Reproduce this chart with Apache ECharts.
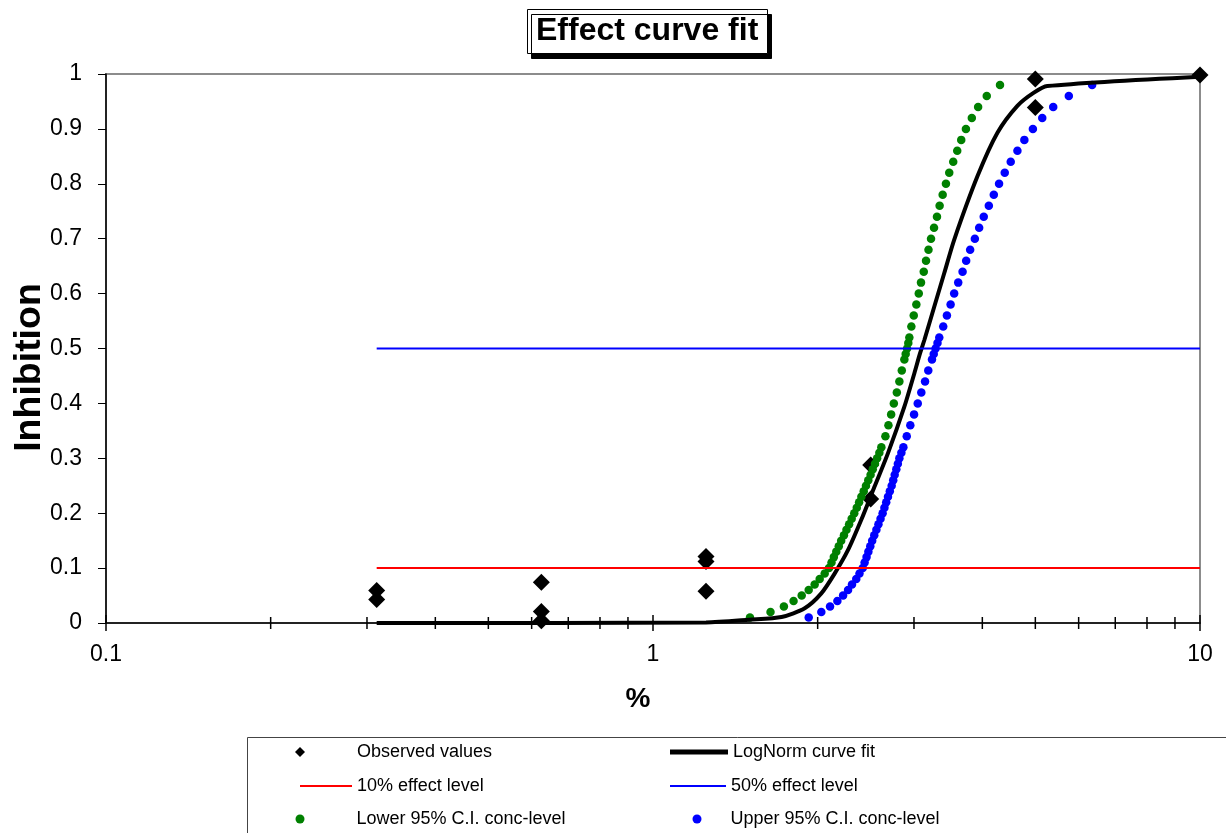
<!DOCTYPE html>
<html>
<head>
<meta charset="utf-8">
<title>Effect curve fit</title>
<script src="https://cdn.jsdelivr.net/npm/echarts@6/dist/echarts.min.js"></script>
<style>
  html, body { margin: 0; padding: 0; background: #fff; }
  #chart { width: 1226px; height: 833px; }
</style>
</head>
<body>
<div id="chart"></div>
<script>
// observed concentrations (%) and inhibition
const observedX = [0.3125, 0.3125, 0.625, 0.625, 0.625, 1.25, 1.25, 1.25, 2.5, 2.5, 5, 5, 10]
const observedY = [0.059, 0.043, 0.074, 0.021, 0.004, 0.121, 0.112, 0.058, 0.288, 0.226, 0.991, 0.939, 0.998]

// fitted log-normal curve
const fitX = [0.3125, 1.25, 1.5, 1.718, 1.894, 2.031, 2.148, 2.273, 2.403, 2.54, 2.688, 2.881,
  3.005, 3.077, 3.133, 3.267, 3.407, 3.553, 3.92, 4.263, 4.636, 4.97, 5.258, 10]
const fitY = [0, 0.001, 0.006, 0.011, 0.027, 0.054, 0.09, 0.133, 0.188, 0.248, 0.309, 0.394,
  0.455, 0.491, 0.515, 0.576, 0.637, 0.698, 0.814, 0.893, 0.942, 0.966, 0.978, 0.995]

// effect levels
const levelX = [0.3125, 10]
const level10 = 0.1
const level50 = 0.5

// confidence interval dots: effect level and lower / upper concentration
const ciLevels = [
  0.01, 0.02, 0.03, 0.04, 0.05, 0.06, 0.07, 0.08, 0.09, 0.10,
  0.11, 0.12, 0.13, 0.14, 0.15, 0.16, 0.17, 0.18, 0.19, 0.20,
  0.21, 0.22, 0.23, 0.24, 0.25, 0.26, 0.27, 0.28, 0.29, 0.30,
  0.31, 0.32, 0.34, 0.36, 0.38, 0.40, 0.42, 0.44, 0.46, 0.48,
  0.49, 0.50, 0.51, 0.52, 0.54, 0.56, 0.58, 0.60, 0.62, 0.64,
  0.66, 0.68, 0.70, 0.72, 0.74, 0.76, 0.78, 0.80, 0.82, 0.84,
  0.86, 0.88, 0.90, 0.92, 0.94, 0.96, 0.98
]
const lowerX = [
  1.504, 1.64, 1.735, 1.807, 1.87, 1.926, 1.975, 2.017, 2.06, 2.098,
  2.12, 2.141, 2.163, 2.186, 2.208, 2.234, 2.258, 2.283, 2.308, 2.333,
  2.358, 2.381, 2.404, 2.428, 2.451, 2.475, 2.499, 2.522, 2.546, 2.569,
  2.593, 2.615, 2.66, 2.694, 2.725, 2.756, 2.791, 2.821, 2.85, 2.881,
  2.897, 2.914, 2.929, 2.942, 2.967, 2.997, 3.03, 3.061, 3.09, 3.126,
  3.156, 3.189, 3.223, 3.264, 3.305, 3.342, 3.385, 3.432, 3.48, 3.539,
  3.599, 3.66, 3.733, 3.827, 3.93, 4.075, 4.309
]
const upperX = [
  1.926, 2.031, 2.107, 2.173, 2.226, 2.273, 2.311, 2.353, 2.385, 2.418,
  2.437, 2.457, 2.476, 2.496, 2.516, 2.538, 2.561, 2.583, 2.606, 2.629,
  2.649, 2.669, 2.689, 2.71, 2.731, 2.749, 2.766, 2.785, 2.803, 2.821,
  2.845, 2.869, 2.91, 2.954, 3.001, 3.048, 3.094, 3.143, 3.186, 3.236,
  3.26, 3.285, 3.312, 3.337, 3.393, 3.446, 3.5, 3.553, 3.614, 3.681,
  3.737, 3.8, 3.876, 3.947, 4.024, 4.111, 4.198, 4.292, 4.396, 4.508,
  4.637, 4.774, 4.949, 5.148, 5.391, 5.757, 6.35
]

// x axis tick positions (log axis, drawn across the axis line)
const majorTickX = [0.1, 1, 10]
const minorTickX = [0.2, 0.3, 0.4, 0.5, 0.6, 0.7, 0.8, 0.9, 2, 3, 4, 5, 6, 7, 8, 9]

const FONT = '"Liberation Sans", Arial, Helvetica, sans-serif'

const zip = (xs, ys) => xs.map((x, i) => [x, Array.isArray(ys) ? ys[i] : ys])

// one legend per entry so each can sit where the original put it
const legendItem = (name, left, top, icon, w, h, pad = 0) => ({
  data: [{ name, icon }],
  left,
  top,
  itemWidth: w,
  itemHeight: h,
  orient: 'horizontal',
  padding: 0,
  selectedMode: false,
  z: 5,
  textStyle: { fontFamily: FONT, fontSize: 18, color: '#000', padding: [0, 0, 0, pad] },
})

const chart = echarts.init(document.getElementById('chart'))

chart.setOption({
  animation: false,
  backgroundColor: '#fff',
  title: {
    text: 'Effect curve fit',
    left: 527,
    top: 9,
    padding: [6, 9, 7, 9],
    backgroundColor: '#fff',
    borderColor: '#000',
    borderWidth: 1,
    shadowColor: '#000',
    shadowOffsetX: 4,
    shadowOffsetY: 5,
    shadowBlur: 0,
    textStyle: { fontFamily: FONT, fontSize: 32, fontWeight: 'bold', color: '#000' },
  },
  grid: {
    left: 106,
    right: 26,
    top: 74,
    bottom: 210,
    outerBoundsMode: 'none',
    containLabel: false,
    show: true,
    borderColor: '#8c8c8c',
    borderWidth: 2,
  },
  xAxis: {
    type: 'log',
    logBase: 10,
    min: 0.1,
    max: 10,
    name: '%',
    nameLocation: 'middle',
    nameGap: 62,
    nameMoveOverlap: false,
    nameTextStyle: { fontFamily: FONT, fontSize: 28, fontWeight: 'bold', color: '#000', padding: [0, 30, 0, 0] },
    axisLine: { show: true, onZero: false, lineStyle: { color: '#000', width: 1.5 } },
    axisTick: { show: false },
    minorTick: { show: false },
    splitLine: { show: false },
    axisLabel: { fontFamily: FONT, fontSize: 23, color: '#000', margin: 20 },
  },
  yAxis: {
    type: 'value',
    min: 0,
    max: 1,
    interval: 0.1,
    name: 'Inhibition',
    nameLocation: 'middle',
    nameGap: 57,
    nameMoveOverlap: false,
    nameTextStyle: { fontFamily: FONT, fontSize: 37.5, fontWeight: 'bold', color: '#000', padding: [0, 38, 0, 0] },
    axisLine: { show: true, lineStyle: { color: '#000', width: 1.5 } },
    axisTick: { show: true, length: 8, lineStyle: { color: '#000' } },
    splitLine: { show: false },
    axisLabel: { fontFamily: FONT, fontSize: 23, color: '#000', margin: 24 },
  },
  graphic: [
    {
      type: 'rect',
      left: 247,
      top: 737,
      z: 0,
      shape: { width: 1000, height: 120 },
      style: { fill: '#fff', stroke: '#444', lineWidth: 1 },
    },
  ],
  legend: [
    legendItem('Observed values', 295, 743, 'diamond', 10, 10, 47),
    legendItem('LogNorm curve fit', 670, 743, 'rect', 58, 5),
    legendItem('10% effect level', 300, 777, 'rect', 52, 2),
    legendItem('50% effect level', 670, 777, 'rect', 56, 2),
    legendItem('Lower 95% C.I. conc-level', 295.5, 810, 'circle', 9, 9, 47),
    legendItem('Upper 95% C.I. conc-level', 692.5, 810, 'circle', 9, 9, 24),
  ],
  series: [
    {
      name: 'axis ticks',
      type: 'scatter',
      silent: true,
      symbol: 'rect',
      symbolSize: [1.5, 12],
      itemStyle: { color: '#000', opacity: 1 },
      data: zip(minorTickX, 0),
    },
    {
      name: 'axis major ticks',
      type: 'scatter',
      silent: true,
      symbol: 'rect',
      symbolSize: [1.5, 16],
      itemStyle: { color: '#000', opacity: 1 },
      data: zip(majorTickX, 0),
    },
    {
      name: 'Observed values',
      type: 'scatter',
      symbol: 'diamond',
      symbolSize: 17,
      itemStyle: { color: '#000', opacity: 1 },
      data: zip(observedX, observedY),
    },
    {
      name: 'LogNorm curve fit',
      type: 'line',
      symbol: 'none',
      clip: false,
      smooth: 0.25,
      lineStyle: { color: '#000', width: 4 },
      itemStyle: { color: '#000' },
      data: zip(fitX, fitY),
    },
    {
      name: '10% effect level',
      type: 'line',
      symbol: 'none',
      lineStyle: { color: '#ff0000', width: 2 },
      itemStyle: { color: '#ff0000' },
      data: zip(levelX, level10),
    },
    {
      name: '50% effect level',
      type: 'line',
      symbol: 'none',
      lineStyle: { color: '#0000ff', width: 2 },
      itemStyle: { color: '#0000ff' },
      data: zip(levelX, level50),
    },
    {
      name: 'Lower 95% C.I. conc-level',
      type: 'scatter',
      symbol: 'circle',
      symbolSize: 8.5,
      itemStyle: { color: '#008000', opacity: 1 },
      data: zip(lowerX, ciLevels),
    },
    {
      name: 'Upper 95% C.I. conc-level',
      type: 'scatter',
      symbol: 'circle',
      symbolSize: 8.5,
      itemStyle: { color: '#0000ff', opacity: 1 },
      data: zip(upperX, ciLevels),
    },
  ],
})

window.addEventListener('resize', () => chart.resize())
</script>
</body>
</html>
